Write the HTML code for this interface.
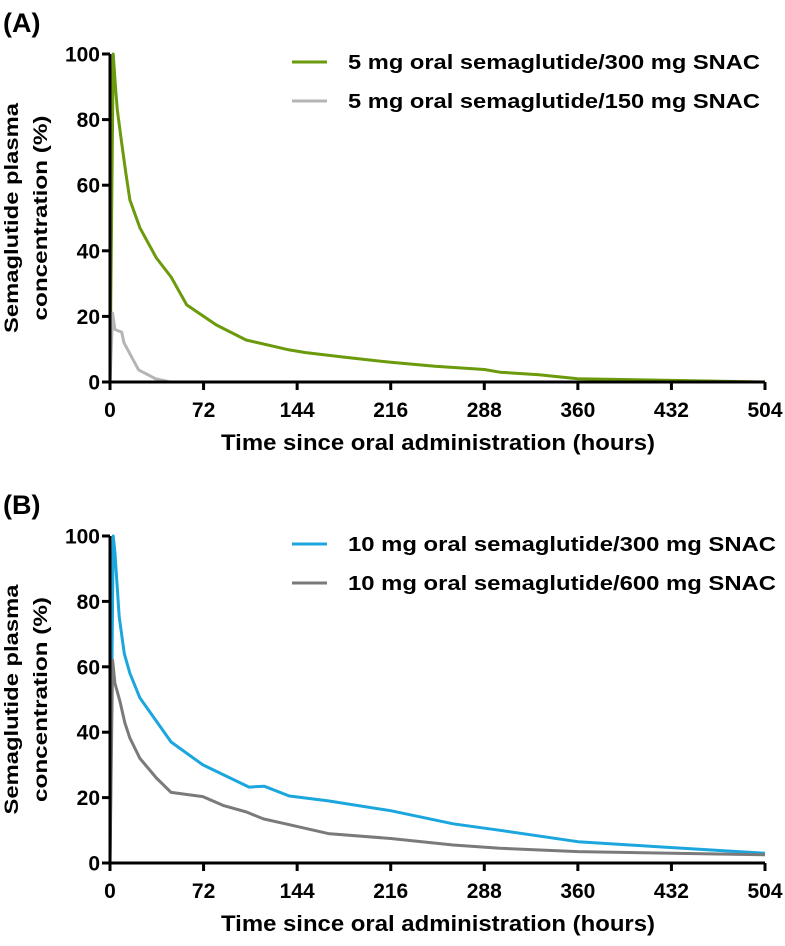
<!DOCTYPE html>
<html><head><meta charset="utf-8"><style>
html,body{margin:0;padding:0;background:#fff;}
svg text{font-family:"Liberation Sans",Arial,sans-serif;font-weight:bold;fill:#000;}
</style></head><body>
<svg id="chart" width="785" height="941" viewBox="0 0 785 941"></svg>
<script>
const xTicks=[0,72,144,216,288,360,432,504];
const yTicks=[0,20,40,60,80,100];
const a1Hours=[0,2.5,4.4,5.6,9,12.2,15.3,23,35.7,47,59,81.7,104.7,138,150,180,216,250,288,300,330,360,432,504];
const a1Values=[0,100,89,83,72.8,63.6,55.5,47,37.8,32,23.5,17.4,12.8,9.8,9,7.6,6,4.8,3.8,3,2.2,1,0.5,0];
const a2Hours=[0,2,3.8,9,10.7,22,35,46,504];
const a2Values=[0,21,16,15.2,12,3.7,1,0,0];
const b1Hours=[0,2.5,3.8,7.1,11,15.3,23,47,71.5,107,118.6,138,168,216,264,300,360,420,504];
const b1Values=[0,100,95,75.3,64,58,50.5,37,30,23.2,23.5,20.5,19,16,12,10,6.5,5,3];
const b2Hours=[0,2,3.8,7.6,11.5,15.3,23,35.7,47,71.5,87,105,118,138,168,216,264,300,360,504];
const b2Values=[0,62,55,49.5,42.8,38.2,32,26,21.6,20.3,17.6,15.6,13.5,11.7,9,7.5,5.5,4.5,3.5,2.5];
const legendA=["5 mg oral semaglutide/300 mg SNAC","5 mg oral semaglutide/150 mg SNAC"];
const legendB=["10 mg oral semaglutide/300 mg SNAC","10 mg oral semaglutide/600 mg SNAC"];

const svg=document.getElementById('chart');
const NS='http://www.w3.org/2000/svg';
function mk(tag,attrs,parent,text){const e=document.createElementNS(NS,tag);for(const k in attrs)e.setAttribute(k,attrs[k]);if(text!==undefined)e.textContent=text;parent.appendChild(e);return e;}
const X0=110,X1=765;
function xs(h){return X0+(X1-X0)*h/504;}

function panel(label,top,bottom,series,legend,key){
  const g=mk('g',{},svg);
  
  
  const ys=v=>bottom-(bottom-top)*v/100;
  const t=mk('text',{x:3,y:top-22,'font-size':27},g,label);
  
  
  const mid=(top+bottom)/2;
  const yt1=mk('text',{transform:`translate(18,${mid}) rotate(-90)`,'text-anchor':'middle','font-size':19,textLength:230,lengthAdjust:'spacingAndGlyphs'},g,'Semaglutide plasma');
  
  
  const yt2=mk('text',{transform:`translate(47,${mid}) rotate(-90)`,'text-anchor':'middle','font-size':19,textLength:205,lengthAdjust:'spacingAndGlyphs'},g,'concentration (%)');
  
  
  series.forEach((s,i)=>{
    let d='';s.h.forEach((h,j)=>{d+=(j?'L':'M')+xs(h).toFixed(1)+','+ys(s.v[j]).toFixed(1);});
    const p=mk('path',{d:d,fill:'none',stroke:s.c,'stroke-width':3,'stroke-linejoin':'round'},g);
    
    
  });
  const ax=mk('path',{d:`M${X0},${top}V${bottom}H${X1}`,fill:'none',stroke:'#000','stroke-width':3},g);
  
  
  yTicks.forEach(v=>{
    const tk=mk('line',{x1:X0-8,x2:X0,y1:ys(v),y2:ys(v),stroke:'#000','stroke-width':3},g);
    
    
    const tl=mk('text',{x:X0-10,y:ys(v)+7.5,'text-anchor':'end','font-size':21},g,String(v));
    
    
  });
  xTicks.forEach(h=>{
    const tk=mk('line',{x1:xs(h),x2:xs(h),y1:bottom,y2:bottom+8,stroke:'#000','stroke-width':3},g);
    
    
    const tl=mk('text',{x:xs(h),y:bottom+35,'text-anchor':'middle','font-size':21},g,String(h));
    
    
  });
  const xt=mk('text',{x:438,y:bottom+68,'text-anchor':'middle','font-size':22,textLength:434,lengthAdjust:'spacingAndGlyphs'},g,'Time since oral administration (hours)');
  
  
  legend.forEach((txt,i)=>{
    const ly=top+8+i*39;
    const ll=mk('line',{x1:292,x2:327,y1:ly,y2:ly,stroke:series[i].c,'stroke-width':3},g);
    
    
    const lt=mk('text',{x:348,y:ly+7,'font-size':20,textLength:(key==='a'?412:428),lengthAdjust:'spacingAndGlyphs'},g,txt);
    
    
  });
}
panel('(A)',54,382,[{h:a1Hours,v:a1Values,c:'#6b9a0c'},{h:a2Hours,v:a2Values,c:'#b5b5b5'}],legendA,'a');
panel('(B)',536,863,[{h:b1Hours,v:b1Values,c:'#1ba6de'},{h:b2Hours,v:b2Values,c:'#7a7a7a'}],legendB,'b');
</script>
</body></html>
